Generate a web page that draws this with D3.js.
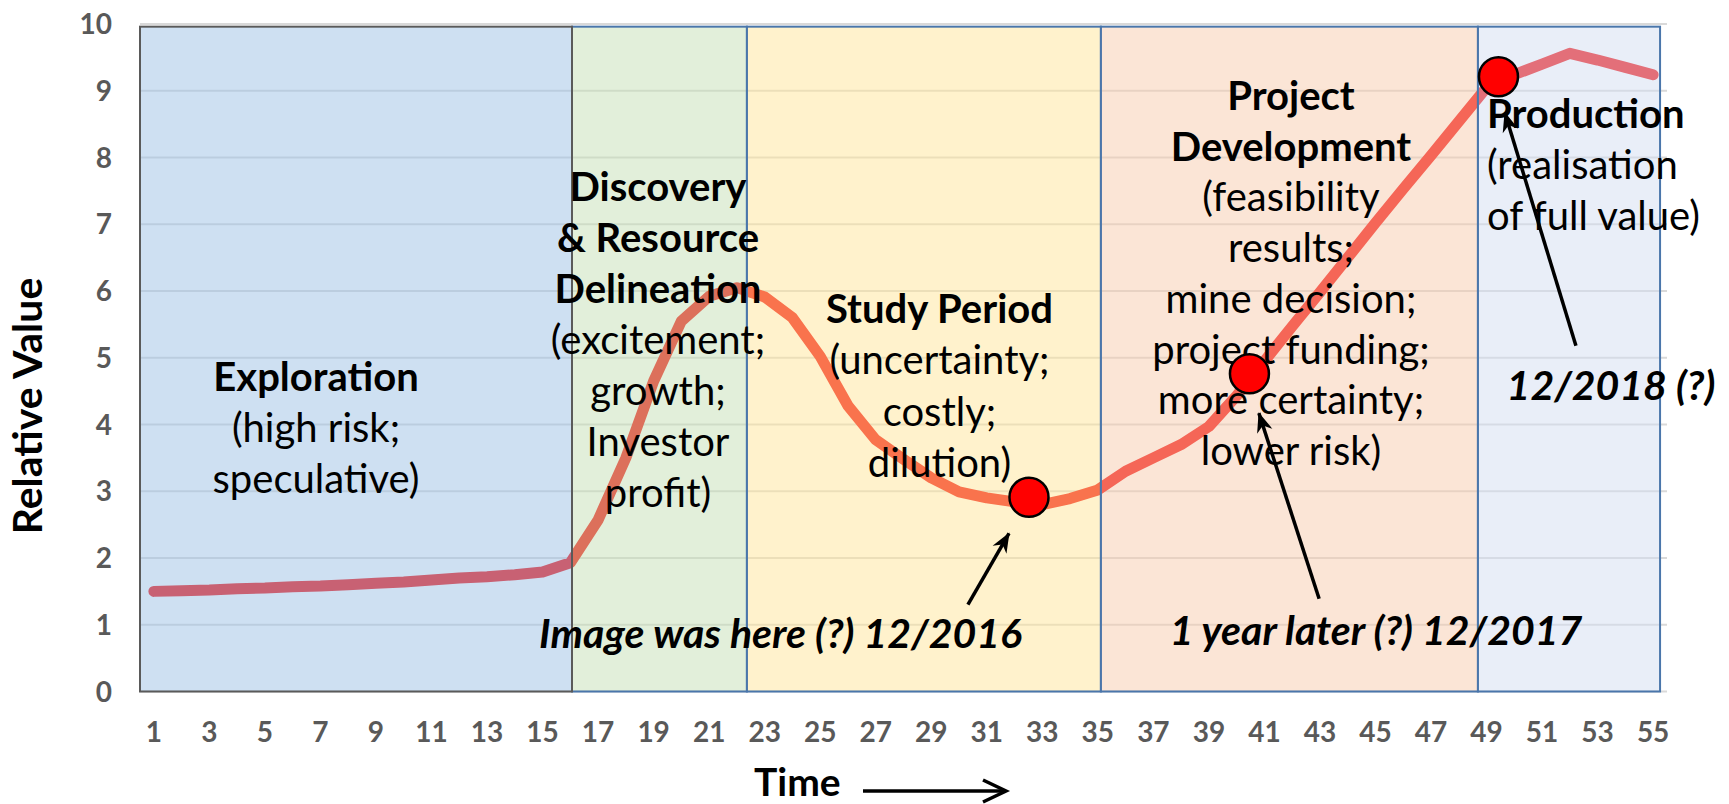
<!DOCTYPE html>
<html><head><meta charset="utf-8">
<script src="https://cdn.jsdelivr.net/npm/d3@7"></script>
<style>
html,body{margin:0;padding:0;background:#fff;}
svg{display:block;font-family:Lato,"Open Sans",sans-serif;}
</style></head>
<body><svg id="chart" width="1729" height="804"></svg>
<script>
// ---------------- DATA ----------------
const categories = d3.range(1, 56); // 1..55
const values = [1.50,1.51,1.52,1.54,1.55,1.57,1.58,1.60,1.62,1.64,1.67,1.70,1.72,1.75,1.79,1.93,
  2.57,3.50,4.65,5.55,5.92,6.05,5.91,5.60,5.02,4.28,3.77,3.48,3.20,2.99,2.90,2.84,2.80,2.89,3.02,
  3.30,3.50,3.70,3.97,4.43,4.95,5.47,5.98,6.50,7.02,7.53,8.03,8.54,9.05,9.24,9.40,9.56,9.46,9.35,9.24];
const xTickLabels = categories.filter(d => d % 2 === 1);
const yTicks = [0,1,2,3,4,5,6,7,8,9,10];

const phaseNames  = ["Exploration","Discovery","Study Period","Project Development","Production"];
const phaseStart  = [0.5, 16.06, 22.36, 35.11, 48.69];
const phaseEnd    = [16.06, 22.36, 35.11, 48.69, 55.25];
const phaseTitles = [["Exploration"],["Discovery","& Resource","Delineation"],["Study Period"],["Project","Development"],["Production"]];
const phaseNotes  = [["(high risk;","speculative)"],["(excitement;","growth;","Investor","profit)"],
  ["(uncertainty;","costly;","dilution)"],["(feasibility","results;","mine decision;","project funding;","more certainty;","lower risk)"],
  ["(realisation","of full value)"]];

const markerCats   = [32.52, 40.46, 49.43];
const markerValues = [2.91, 4.76, 9.21];
const markerNotes  = ["Image was here (?) 12/2016", "1 year later (?) 12/2017", "12/2018 (?)"];
// arrow tail/tip in (category, value)
const arrowTail = [[30.32,1.30],[42.97,1.39],[52.22,5.18]];
const arrowTip  = [[31.80,2.37],[40.80,4.17],[49.66,8.67]];

// ---------------- LAYOUT ----------------
const svg = d3.select("#chart");
const x = d3.scaleLinear().domain([0.5, 55.5]).range([140, 1667]);
const y = d3.scaleLinear().domain([0, 10]).range([691.5, 24]);

const phaseFill   = ["#9dc1e5","#c5dfb5","#ffe599","#f7cbad","#d3ddf1"];
const phaseStroke = ["#5a5a5a","#4a76ab","#4a76ab","#4a76ab","#4a76ab"];
const labelLayout = [
  {x:316,  anchor:"middle", y0:391, step:51},
  {x:658,  anchor:"middle", y0:201, step:51},
  {x:939.5,anchor:"middle", y0:323, step:51.3},
  {x:1291, anchor:"middle", y0:110, step:50.7},
  {x:1487, anchor:"start",  y0:128, step:50.8}
];
const noteLayout = [{x:780.5,y:648,anchor:"middle"},{x:1376,y:645,anchor:"middle"},{x:1611,y:400,anchor:"middle"}];

// gridlines (under translucent boxes)
svg.append("g").selectAll("line").data(yTicks).join("line")
  .attr("x1", x(0.5)).attr("x2", x(55.5))
  .attr("y1", d => y(d)).attr("y2", d => y(d))
  .attr("stroke", "#d9d9d9").attr("stroke-width", 2);

// arrow marker
const defs = svg.append("defs");
defs.append("marker").attr("id","ah").attr("viewBox","-20 -10 22 20")
  .attr("refX",0).attr("refY",0).attr("markerWidth",22).attr("markerHeight",20)
  .attr("markerUnits","userSpaceOnUse").attr("orient","auto")
  .append("path").attr("d","M1,0 L-19,-8 L-13,0 L-19,8 Z").attr("fill","#000");

// series line
const line = d3.line().x((d,i) => x(categories[i])).y(d => y(d));
svg.append("path").datum(values).attr("d", line)
  .attr("fill","none").attr("stroke","#f20000").attr("stroke-width",11)
  .attr("stroke-linejoin","round").attr("stroke-linecap","round");

// translucent phase boxes (exploration last so its border is on top)
const order = [1,2,3,4,0];
svg.append("g").selectAll("rect").data(order).join("rect")
  .attr("x", i => x(phaseStart[i])).attr("width", i => x(phaseEnd[i]) - x(phaseStart[i]))
  .attr("y", y(9.96)).attr("height", y(0) - y(9.96))
  .attr("fill", i => phaseFill[i]).attr("fill-opacity", 0.5)
  .attr("stroke", i => phaseStroke[i]).attr("stroke-width", 2);

// axes labels
svg.append("g").selectAll("text").data(yTicks).join("text")
  .attr("x", 112).attr("y", d => y(d) + 10).attr("text-anchor","end")
  .attr("font-size", 28).attr("font-weight", 700).attr("fill", "#595959").text(d => d);
svg.append("g").selectAll("text").data(xTickLabels).join("text")
  .attr("x", d => x(d)).attr("y", 742).attr("text-anchor","middle")
  .attr("font-size", 28).attr("font-weight", 700).attr("fill", "#595959").text(d => d);
svg.append("text").attr("transform","translate(41.5,406) rotate(-90)").attr("text-anchor","middle")
  .attr("font-size", 41).attr("font-weight", 700).attr("fill","#000").text("Relative Value");
svg.append("text").attr("x",754).attr("y",796).attr("font-size",39).attr("font-weight",700).text("Time");
svg.append("line").attr("x1",863).attr("x2",1004).attr("y1",791).attr("y2",791)
  .attr("stroke","#000").attr("stroke-width",3.5);
svg.append("path").attr("d","M983,780 L1006,791 L983,802").attr("fill","none")
  .attr("stroke","#000").attr("stroke-width",3.5);

// phase labels
phaseTitles.forEach((titles, i) => {
  const L = labelLayout[i];
  const lines = titles.map(t => ({t, bold:true})).concat(phaseNotes[i].map(t => ({t, bold:false})));
  svg.append("g").selectAll("text").data(lines).join("text")
    .attr("x", L.x).attr("y", (d,k) => L.y0 + k * L.step).attr("text-anchor", L.anchor)
    .attr("font-size", 40).attr("font-weight", d => d.bold ? 700 : 400).attr("fill","#000")
    .text(d => d.t);
});

// markers
svg.append("g").selectAll("circle").data(markerCats).join("circle")
  .attr("cx", d => x(d)).attr("cy", (d,i) => y(markerValues[i])).attr("r", 19.5)
  .attr("fill","#ff0000").attr("stroke","#000").attr("stroke-width",2.5);

// annotation notes
svg.append("g").selectAll("text").data(markerNotes).join("text")
  .attr("x", (d,i) => noteLayout[i].x).attr("y", (d,i) => noteLayout[i].y)
  .attr("text-anchor", (d,i) => noteLayout[i].anchor)
  .attr("font-size", 41).attr("font-weight",700).attr("font-style","italic").text(d => d);

// arrows
svg.append("g").selectAll("line").data(arrowTail).join("line")
  .attr("x1", d => x(d[0])).attr("y1", d => y(d[1]))
  .attr("x2", (d,i) => x(arrowTip[i][0])).attr("y2", (d,i) => y(arrowTip[i][1]))
  .attr("stroke","#000").attr("stroke-width",3.5).attr("marker-end","url(#ah)");
</script></body></html>
